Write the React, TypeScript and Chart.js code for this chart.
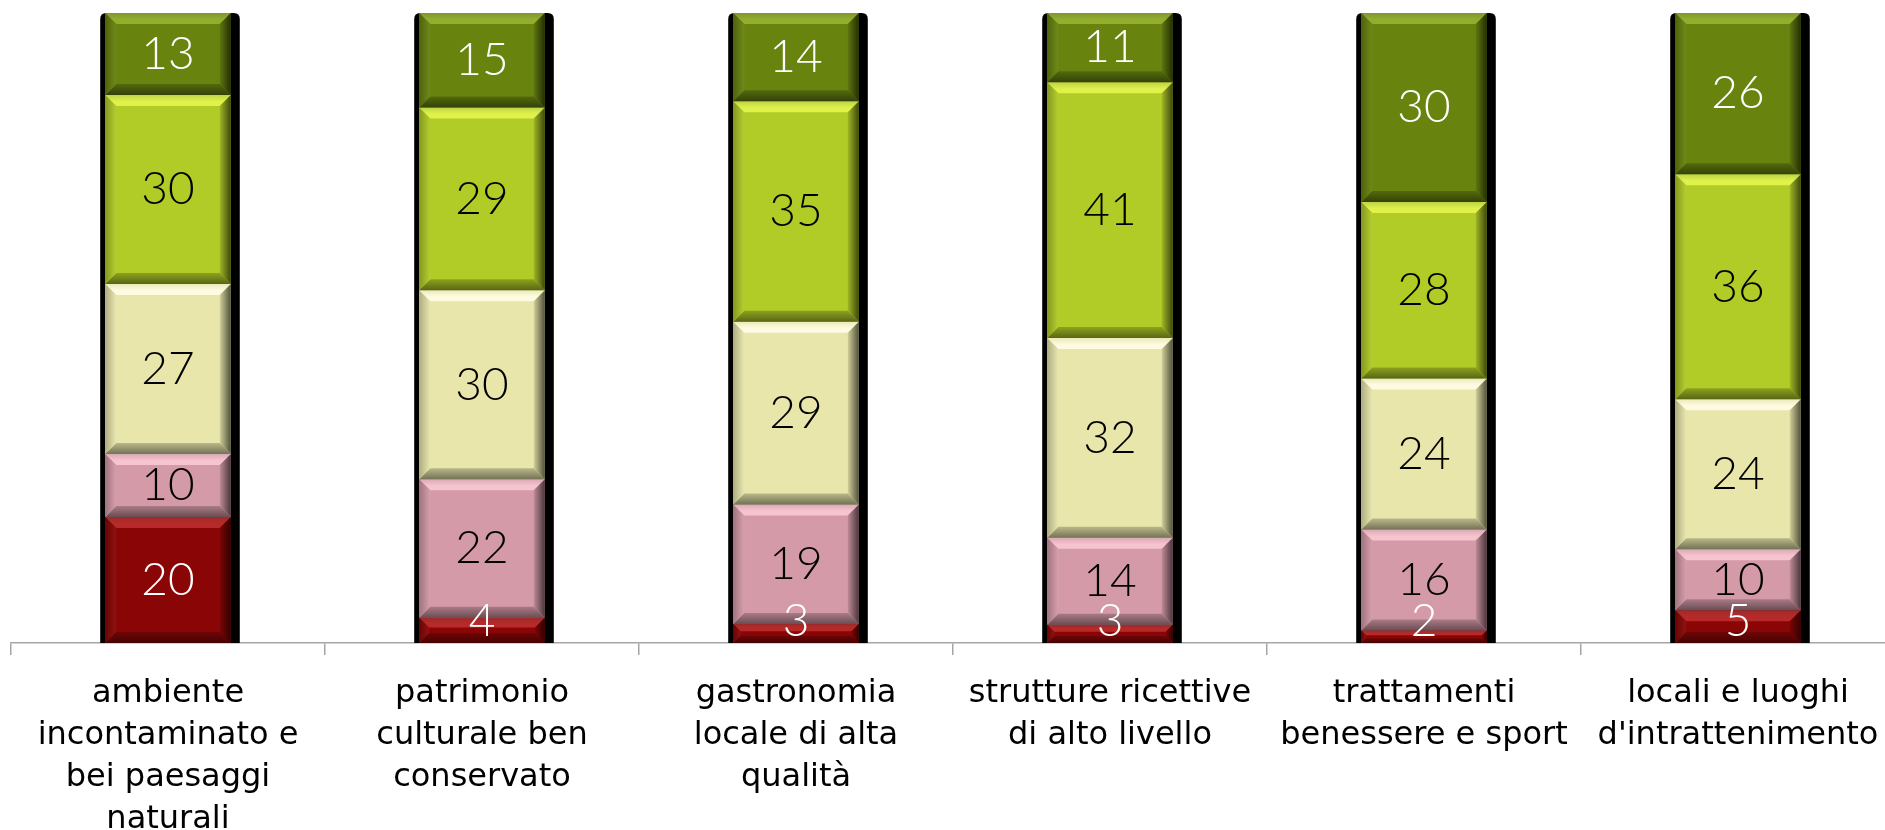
import React, { useEffect, useRef } from "react";
import { Chart, registerables } from "chart.js";

Chart.register(...registerables);

const categories: string[][] = [
  ["ambiente", "incontaminato e", "bei paesaggi", "naturali"],
  ["patrimonio", "culturale ben", "conservato"],
  ["gastronomia", "locale di alta", "qualità"],
  ["strutture ricettive", "di alto livello"],
  ["trattamenti", "benessere e sport"],
  ["locali e luoghi", "d'intrattenimento"],
];

const series1 = [20, 4, 3, 2.9, 2, 5.2];
const series2 = [10, 22, 19, 13.8, 16, 9.7];
const series3 = [27, 30, 29, 31.7, 24, 23.8];
const series4 = [30, 29, 35, 40.6, 28, 35.7];
const series5 = [13, 15, 14, 11, 30, 25.6];

const seriesNames = ["serie 1", "serie 2", "serie 3", "serie 4", "serie 5"];
const seriesColors = ["#8a0606", "#d49aa8", "#e8e6ab", "#b1cb27", "#68840f"];
const topBevelColors = ["#b82a2a", "#f6c4cf", "#fffbe2", "#dff24a", "#93ae2c"];
const labelColors = ["#ffffff", "#000000", "#000000", "#000000", "#ffffff"];

function hexToRgb(hex: string) {
  const h = hex.replace("#", "");
  return [parseInt(h.slice(0, 2), 16), parseInt(h.slice(2, 4), 16), parseInt(h.slice(4, 6), 16)];
}
function mix(hex: string, target: number, t: number) {
  const c = hexToRgb(hex).map((v) => Math.round(v + (target - v) * t));
  return `rgb(${c[0]},${c[1]},${c[2]})`;
}

const bevelPlugin = {
  id: "bevel",
  beforeDatasetsDraw(chart: any) {
    const ctx = chart.ctx;
    const n = chart.data.labels.length;
    const metas = chart.getSortedVisibleDatasetMetas();
    for (let i = 0; i < n; i++) {
      let top = Infinity, bottom = -Infinity, x = 0, w = 0;
      metas.forEach((m: any) => {
        const el = m.data[i];
        if (!el) return;
        top = Math.min(top, el.y, el.base);
        bottom = Math.max(bottom, el.y, el.base);
        x = el.x;
        w = el.width;
      });
      const L = x - w / 2 - 5, R = x + w / 2 + 9, r = 6;
      ctx.save();
      ctx.fillStyle = "#000";
      ctx.beginPath();
      ctx.moveTo(L, bottom);
      ctx.lineTo(L, top + r);
      ctx.quadraticCurveTo(L, top, L + r, top);
      ctx.lineTo(R - r, top);
      ctx.quadraticCurveTo(R, top, R, top + r);
      ctx.lineTo(R, bottom);
      ctx.closePath();
      ctx.fill();
      ctx.restore();
    }
  },
  afterDatasetsDraw(chart: any) {
    const ctx = chart.ctx;
    const metas = chart.getSortedVisibleDatasetMetas();
    const zeroY = chart.scales.y.getPixelForValue(0);
    metas.forEach((m: any) => {
      const color = seriesColors[m.index];
      const topC = topBevelColors[m.index];
      m.data.forEach((el: any) => {
        const L = el.x - el.width / 2, R = el.x + el.width / 2;
        const T = Math.min(el.y, el.base), B = Math.max(el.y, el.base);
        const h = B - T;
        const b = Math.min(11, h / 2.6);
        ctx.save();
        // top bevel
        let g = ctx.createLinearGradient(0, T, 0, T + b);
        g.addColorStop(0, mix(color, 255, 0.15));
        g.addColorStop(0.6, topC);
        g.addColorStop(1, topC);
        ctx.fillStyle = g;
        ctx.beginPath();
        ctx.moveTo(L, T); ctx.lineTo(R, T); ctx.lineTo(R - b, T + b); ctx.lineTo(L + b, T + b); ctx.closePath();
        ctx.fill();
        // bottom bevel
        g = ctx.createLinearGradient(0, B - b, 0, B);
        g.addColorStop(0, mix(color, 0, 0.2));
        g.addColorStop(1, mix(color, 0, 0.5));
        ctx.fillStyle = g;
        ctx.beginPath();
        ctx.moveTo(L, B); ctx.lineTo(R, B); ctx.lineTo(R - b, B - b); ctx.lineTo(L + b, B - b); ctx.closePath();
        ctx.fill();
        // left bevel
        g = ctx.createLinearGradient(L, 0, L + b, 0);
        g.addColorStop(0, mix(color, 0, 0.25));
        g.addColorStop(1, mix(color, 255, 0.05));
        ctx.fillStyle = g;
        ctx.beginPath();
        ctx.moveTo(L, T); ctx.lineTo(L + b, T + b); ctx.lineTo(L + b, B - b); ctx.lineTo(L, B); ctx.closePath();
        ctx.fill();
        // right bevel
        g = ctx.createLinearGradient(R - b, 0, R, 0);
        g.addColorStop(0, mix(color, 0, 0.1));
        g.addColorStop(1, mix(color, 0, 0.65));
        ctx.fillStyle = g;
        ctx.beginPath();
        ctx.moveTo(R, T); ctx.lineTo(R - b, T + b); ctx.lineTo(R - b, B - b); ctx.lineTo(R, B); ctx.closePath();
        ctx.fill();
        ctx.restore();
      });
    });
    // value labels
    metas.forEach((m: any) => {
      const ds = chart.data.datasets[m.index];
      m.data.forEach((el: any, i: number) => {
        const v = ds.data[i];
        const T = Math.min(el.y, el.base), B = Math.max(el.y, el.base);
        const cy = Math.min((T + B) / 2, zeroY - 22);
        ctx.save();
        ctx.font = "300 46px Lato";
        ctx.fillStyle = labelColors[m.index];
        ctx.textAlign = "center";
        ctx.textBaseline = "middle";
        ctx.fillText(String(Math.round(v)), el.x, cy);
        ctx.restore();
      });
    });
  },
};

export default function App() {
  const ref = useRef<HTMLCanvasElement>(null);
  useEffect(() => {
    if (!ref.current) return;
    const data = [series1, series2, series3, series4, series5];
    const chart = new Chart(ref.current, {
      type: "bar",
      data: {
        labels: categories,
        datasets: data.map((d, k) => ({
          label: seriesNames[k],
          data: d,
          backgroundColor: seriesColors[k],
          borderWidth: 0,
          barPercentage: 0.4,
          categoryPercentage: 1,
        })),
      },
      plugins: [bevelPlugin],
      options: {
        responsive: false,
        animation: false,
        devicePixelRatio: 1,
        layout: { padding: { left: 11, right: 5, top: 13, bottom: 0 } },
        plugins: { legend: { display: false }, tooltip: { enabled: false } },
        scales: {
          x: {
            stacked: true,
            afterFit: (scale: any) => {
              scale.height = 187;
            },
            grid: {
              drawOnChartArea: false,
              drawTicks: true,
              tickLength: 12,
              color: "#a6a6a6",
              lineWidth: 1.5,
            },
            border: { display: true, color: "#a6a6a6", width: 1.5 },
            ticks: {
              color: "#000",
              padding: 18,
              maxRotation: 0,
              autoSkip: false,
              font: { family: "DejaVu Sans", size: 32, lineHeight: 1.3125 },
            },
          },
          y: {
            stacked: true,
            display: false,
            min: 0,
            max: 100,
          },
        },
      },
    });
    return () => chart.destroy();
  }, []);
  return (
    <div style={{ position: "absolute", left: 0, top: 0, width: 1885, height: 830, overflow: "hidden", background: "#fff" }}>
      <canvas ref={ref} width={1900} height={830} style={{ display: "block" }} />
    </div>
  );
}
